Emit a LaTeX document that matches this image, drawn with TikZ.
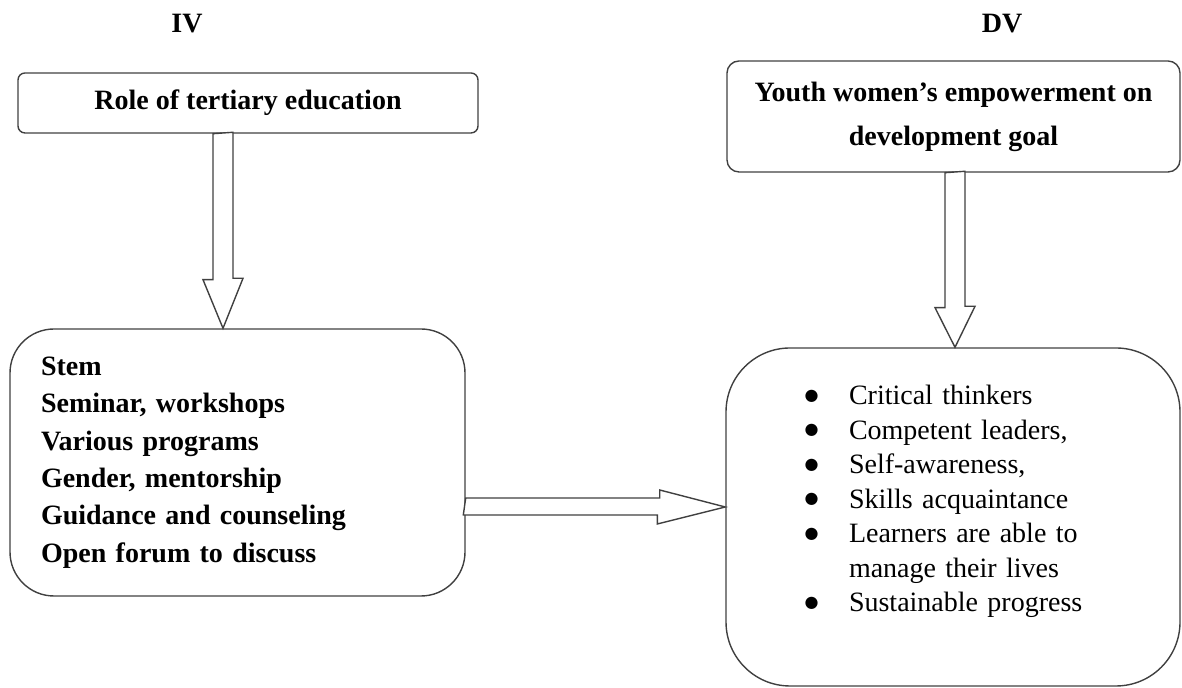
\documentclass[tikz,border=0pt]{standalone}
\usepackage{fontspec}
\setmainfont{Liberation Serif}
\newfontfamily\dejavu{DejaVu Sans}

\newcommand{\itm}{\makebox[21pt][l]{\hspace*{-1.2pt}\raisebox{2.2pt}{\dejavu\fontsize{8}{10}\selectfont ●}}}
\tikzset{
  box/.style={draw=black!75,line width=.7pt,rounded corners=#1},
  hollow/.style={draw=black!75,line width=.7pt,fill=white,line join=miter},
}

\begin{document}
\begin{tikzpicture}[x=.5pt,y=.5pt,font=\fontsize{14}{17}\selectfont]
  \useasboundingbox (0,0) rectangle (1182,688);
  \node[font=\fontsize{14}{17}\selectfont\bfseries] (iv) at (187,664) {IV};
  \node[font=\fontsize{14}{17}\selectfont\bfseries] (dv) at (1002,664) {DV};

  % variable boxes
  \node[box=3.5pt,minimum width=230pt,minimum height=30pt,font=\fontsize{14}{17}\selectfont\bfseries]
    (role) at (248,585) {Role of tertiary education};
  \node[box=6pt,minimum width=226.5pt,minimum height=55.5pt,align=center,font=\fontsize{14}{22}\selectfont\bfseries]
    (youth) at (953.5,571.5) {Youth women’s empowerment on\\development goal};

  \node[box=22pt,minimum width=227.5pt,minimum height=133.5pt,inner xsep=15.5pt,text width=196.5pt,align=left,
    font=\fontsize{14}{18.7}\selectfont\bfseries] (means) at (237.5,225.5)
    {Stem\\Seminar, workshops\\Various programs\\Gender, mentorship\\Guidance and counseling\\Open forum to discuss};
  \node[box=32pt,minimum width=227pt,minimum height=169pt,inner xsep=40.5pt,text width=146pt,align=left,
    font=\fontsize{14}{17.25}\selectfont] (outcome) at (953,171)
    {\begin{tabular}{@{}l@{}}
      \itm Critical thinkers\\
      \itm Competent leaders,\\
      \itm Self-awareness,\\
      \itm Skills acquaintance\\
      \itm Learners are able to\\
      \hspace*{21pt}manage their lives\\
      \itm Sustainable progress\\[15.5pt]
    \end{tabular}};

  % hollow block arrows
  \draw[hollow] (role.south -| 213,0) -- ++(0,-146) -- ++(-10,0) -- (means.north -| 223,0)
    -- ++(20,50) -- ++(-10,0) -- ++(0,146) -- cycle;
  \draw[hollow] (youth.south -| 945,0) -- ++(0,-135) -- ++(-10,0) -- (outcome.north -| 955,0)
    -- ++(20,41) -- ++(-10,0) -- ++(0,135) -- cycle;
  \draw[hollow] (means.east |- 0,190) -- ++(194,0) -- ++(0,8) -- (outcome.west |- 0,181)
    -- ++(-68,-17) -- ++(0,9) -- ++(-194,0) -- cycle;
\end{tikzpicture}
\end{document}
